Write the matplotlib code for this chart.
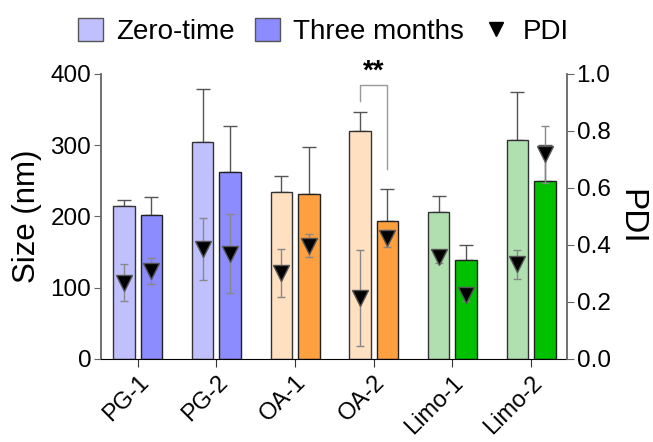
import numpy as np
import matplotlib.pyplot as plt
from matplotlib.patches import Patch
from matplotlib.lines import Line2D

plt.rcParams['font.family'] = ['Liberation Sans', 'DejaVu Sans']

# Data
categories = ["PG-1", "PG-2", "OA-1", "OA-2", "Limo-1", "Limo-2"]
size_zero = [215, 305, 234, 320, 207, 307]
size_zero_err = [8, 74, 23, 27, 22, 68]
size_three = [202, 262, 231, 193, 139, 250]
size_three_err = [26, 65, 67, 46, 21, 50]
pdi_zero = [0.267, 0.386, 0.302, 0.214, 0.358, 0.332]
pdi_zero_err = [0.065, 0.11, 0.083, 0.17, 0.02, 0.05]
pdi_three = [0.31, 0.37, 0.398, 0.423, 0.224, 0.719]
pdi_three_err = [0.046, 0.14, 0.04, 0.03, 0.02, 0.10]

zero_colors = ["#c0c0ff", "#c0c0ff", "#ffe0c0", "#ffe0c0", "#b0e0b0", "#b0e0b0"]
three_colors = ["#8c8cff", "#8c8cff", "#ffa040", "#ffa040", "#00c000", "#00c000"]

x = np.arange(len(categories))
w = 0.273
off = 0.175

fig = plt.figure(figsize=(6.53, 4.42), dpi=100)
ax = fig.add_axes([0.1547, 0.1878, 0.868 - 0.1547, 0.8326 - 0.1878])

ax.bar(x - off, size_zero, w, color=zero_colors, edgecolor="#333333", linewidth=1, zorder=2)
ax.bar(x + off, size_three, w, color=three_colors, edgecolor="#222222", linewidth=1, zorder=2)
ax.errorbar(x - off, size_zero, yerr=[np.zeros(6), size_zero_err], fmt="none",
            ecolor="#555555", elinewidth=1, capsize=5, capthick=1, zorder=1)
ax.errorbar(x + off, size_three, yerr=[np.zeros(6), size_three_err], fmt="none",
            ecolor="#555555", elinewidth=1, capsize=5, capthick=1, zorder=1)

ax.set_xlim(-0.466, 5.455)
ax.set_ylim(0, 400)
ax.set_yticks([0, 100, 200, 300, 400])
ax.set_xticks(x)
ax.set_xticklabels(categories, rotation=45, ha="right", rotation_mode="anchor", fontsize=17)
ax.tick_params(axis="y", labelsize=17.5, color="#666666", length=5, pad=2)
ax.tick_params(axis="x", color="#333333", length=6, pad=3)
ax.set_ylabel("Size (nm)", fontsize=22.5, labelpad=6)
for s in ["top", "right"]:
    ax.spines[s].set_visible(False)
ax.spines["left"].set_color("#666666")
ax.spines["left"].set_linewidth(1.3)

# significance bracket between OA-2 bars
ax.plot([3 - off, 3 - off, 3 + off, 3 + off], [362, 384, 384, 267], color="#999999", lw=1, zorder=3)
ax.text(3, 385, "**", ha="center", va="bottom", fontsize=20, fontweight="bold")

ax2 = ax.twinx()
ax2.errorbar(x - off, pdi_zero, yerr=pdi_zero_err, fmt="v", color="black", ms=12,
             mec="#555555", ecolor="#888888", elinewidth=1, capsize=3, capthick=1)
ax2.errorbar(x + off, pdi_three, yerr=pdi_three_err, fmt="v", color="black", ms=12,
             mec="#555555", ecolor="#888888", elinewidth=1, capsize=3, capthick=1)
ax2.set_ylim(0, 1.0)
ax2.set_yticks([0, 0.2, 0.4, 0.6, 0.8, 1.0])
ax2.set_yticklabels(["0.0", "0.2", "0.4", "0.6", "0.8", "1.0"])
ax2.tick_params(axis="y", labelsize=17.5, color="#666666", length=5, pad=2)
ax2.set_ylabel("PDI", fontsize=24, rotation=270, labelpad=26)
for s in ["top", "left", "bottom"]:
    ax2.spines[s].set_visible(False)
ax2.spines["right"].set_color("#666666")
ax2.spines["right"].set_linewidth(1.3)

handles = [Patch(facecolor="#c0c0ff", edgecolor="#555555"),
           Patch(facecolor="#8c8cff", edgecolor="#555555"),
           Line2D([], [], marker="v", color="black", ls="none", ms=10)]
fig.legend(handles, ["Zero-time", "Three months", "PDI"], loc="upper center",
           bbox_to_anchor=(0.495, 1.015), ncol=3, frameon=False, fontsize=20,
           handlelength=0.9, handleheight=0.9, handletextpad=0.5, columnspacing=0.7)

fig.savefig("out.png", dpi=100)
